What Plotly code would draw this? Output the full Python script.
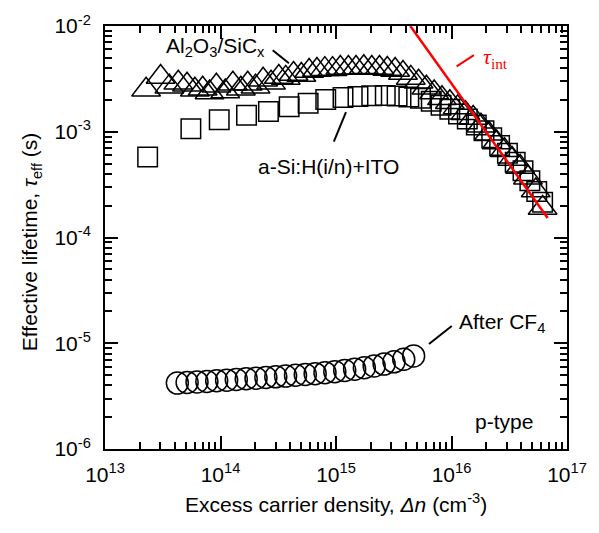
import plotly.graph_objects as go

# ---- data ----
# Al2O3/SiCx (triangles)
tri_x = [2.27e13, 3.03e13, 3.61e13, 4.31e13, 5.13e13, 6.00e13, 7.01e13, 8.04e13, 9.21e13,
         1.10e14, 1.28e14, 1.50e14, 1.72e14, 2.01e14, 2.34e14, 2.74e14, 3.20e14, 3.67e14,
         4.29e14, 5.01e14, 5.85e14, 6.84e14, 8.00e14, 9.34e14, 1.09e15, 1.28e15, 1.49e15,
         1.74e15, 2.04e15, 2.38e15, 2.78e15, 3.25e15, 3.80e15, 4.44e15, 5.19e15, 6.06e15,
         7.08e15, 8.27e15, 9.67e15, 1.13e16, 1.32e16, 1.54e16, 1.80e16, 2.11e16, 2.46e16,
         2.88e16, 3.36e16, 3.93e16, 4.59e16, 5.36e16, 6.15e16]
tri_y = [2.50e-3, 3.30e-3, 2.67e-3, 2.90e-3, 2.78e-3, 2.50e-3, 2.55e-3, 2.35e-3, 2.72e-3,
         2.40e-3, 2.84e-3, 2.55e-3, 2.84e-3, 2.67e-3, 3.10e-3, 2.90e-3, 3.30e-3, 3.23e-3,
         3.52e-3, 3.44e-3, 3.75e-3, 3.83e-3, 3.91e-3, 3.91e-3, 4.00e-3, 4.00e-3, 4.00e-3,
         4.08e-3, 4.00e-3, 4.00e-3, 3.92e-3, 3.83e-3, 3.59e-3, 3.23e-3, 2.97e-3, 2.61e-3,
         2.35e-3, 2.07e-3, 1.90e-3, 1.70e-3, 1.50e-3, 1.35e-3, 1.14e-3, 9.58e-4, 7.91e-4,
         6.67e-4, 5.51e-4, 4.64e-4, 3.67e-4, 2.78e-4, 1.90e-4]

# a-Si:H(i/n)+ITO (squares)
sq_x = [2.34e13, 5.54e13, 9.75e13, 1.68e14, 2.60e14, 3.93e14, 5.74e14, 8.15e14, 1.15e15,
        1.55e15, 2.04e15, 2.67e15, 3.38e15, 4.27e15, 5.39e15, 6.68e15, 8.12e15, 9.67e15,
        1.15e16, 1.37e16, 1.64e16, 1.91e16, 2.23e16, 2.61e16, 3.05e16, 3.56e16, 4.16e16,
        4.77e16, 5.47e16, 6.15e16]
sq_y = [5.78e-4, 1.07e-3, 1.30e-3, 1.43e-3, 1.55e-3, 1.72e-3, 1.86e-3, 2.02e-3, 2.11e-3,
        2.16e-3, 2.19e-3, 2.20e-3, 2.18e-3, 2.13e-3, 2.07e-3, 1.94e-3, 1.78e-3, 1.63e-3,
        1.47e-3, 1.32e-3, 1.16e-3, 1.02e-3, 8.79e-4, 7.41e-4, 6.25e-4, 5.16e-4, 4.27e-4,
        3.44e-4, 2.72e-4, 2.15e-4]

# After CF4 (circles)
ci_x = [4.23e13, 5.14e13, 6.26e13, 7.62e13, 9.27e13, 1.13e14, 1.37e14, 1.67e14, 2.03e14,
        2.47e14, 3.01e14, 3.66e14, 4.46e14, 5.42e14, 6.60e14, 8.03e14, 9.77e14, 1.19e15,
        1.45e15, 1.76e15, 2.14e15, 2.61e15, 3.18e15, 3.86e15, 4.70e15]
ci_y = [4.20e-6, 4.26e-6, 4.31e-6, 4.35e-6, 4.42e-6, 4.48e-6, 4.54e-6, 4.61e-6, 4.67e-6,
        4.74e-6, 4.81e-6, 4.89e-6, 4.98e-6, 5.06e-6, 5.16e-6, 5.27e-6, 5.38e-6, 5.53e-6,
        5.69e-6, 5.87e-6, 6.09e-6, 6.35e-6, 6.67e-6, 7.06e-6, 7.59e-6]

# intrinsic lifetime limit (red line)
int_x = [4.4e15, 6.8e16]
int_y = [1.0e-2, 1.53e-4]

x_tickvals = [1e13, 1e14, 1e15, 1e16, 1e17]
x_ticktext = ["10<sup>13</sup>", "10<sup>14</sup>", "10<sup>15</sup>", "10<sup>16</sup>", "10<sup>17</sup>"]
y_tickvals = [1e-6, 1e-5, 1e-4, 1e-3, 1e-2]
y_ticktext = ["10<sup>-6</sup>", "10<sup>-5</sup>", "10<sup>-4</sup>", "10<sup>-3</sup>", "10<sup>-2</sup>"]

x_minor = [d * 10.0 ** e for e in range(13, 17) for d in range(2, 10)]
y_minor = [d * 10.0 ** e for e in range(-6, -2) for d in range(2, 10)]

FONT = "Liberation Sans, Arial, sans-serif"

fig = go.Figure()
fig.add_trace(go.Scatter(x=tri_x, y=tri_y, mode="markers",
                         marker=dict(symbol="triangle-up", size=25, color="rgba(0,0,0,0)",
                                     line=dict(color="black", width=1.5))))
fig.add_trace(go.Scatter(x=sq_x, y=sq_y, mode="markers",
                         marker=dict(symbol="square", size=19.5, color="rgba(0,0,0,0)",
                                     line=dict(color="black", width=1.5))))
fig.add_trace(go.Scatter(x=ci_x, y=ci_y, mode="markers",
                         marker=dict(symbol="circle", size=22, color="rgba(0,0,0,0)",
                                     line=dict(color="black", width=1.5))))
fig.add_trace(go.Scatter(x=int_x, y=int_y, mode="lines",
                         line=dict(color="#ff0000", width=2.5)))

axis_common = dict(type="log", showline=True, linewidth=2, linecolor="black", mirror="ticks",
                   ticks="inside", ticklen=13, tickwidth=1.5, tickcolor="black",
                   showgrid=False, zeroline=False,
                   tickfont=dict(family=FONT, size=21, color="black"))

fig.update_xaxes(range=[13, 17], tickmode="array", tickvals=x_tickvals, ticktext=x_ticktext,
                 ticklabelstandoff=6,
                 minor=dict(ticks="inside", ticklen=7, tickwidth=1.5, tickcolor="black",
                            tickvals=x_minor, showgrid=False),
                 **axis_common)
fig.update_yaxes(range=[-6, -2], tickmode="array", tickvals=y_tickvals, ticktext=y_ticktext,
                 ticklabelstandoff=8,
                 minor=dict(ticks="inside", ticklen=7, tickwidth=1.5, tickcolor="black",
                            tickvals=y_minor, showgrid=False),
                 **axis_common)

def px2paper(px, py):
    return (px - 105) / 473.0, (449 - py) / 432.0

annots = []
def add_text(text, px, py, size=21, color="black", family=FONT, xanchor="left", angle=0):
    x, y = px2paper(px, py)
    annots.append(dict(text=text, x=x, y=y, xref="paper", yref="paper", showarrow=False,
                       xanchor=xanchor, yanchor="middle", textangle=angle,
                       font=dict(family=family, size=size, color=color)))

add_text("Al<sub>2</sub>O<sub>3</sub>/SiC<sub>x</sub>", 165, 38)
add_text("a-Si:H(i/n)+ITO", 260, 160)
add_text("After CF<sub>4</sub>", 465, 320)
add_text("p-type", 482, 421)
add_text("<i>τ</i><sub>int</sub>", 490, 50, size=22, color="#ff0000",
         family="Liberation Serif, Times New Roman, serif")
add_text("Excess carrier density, <i>Δn</i> (cm<sup>-3</sup>)", 341.5, 504, xanchor="center")
add_text("Effective lifetime, <i>τ</i><sub>eff</sub> (s)", 30, 238, xanchor="center", angle=-90)

shapes = []
def add_leader(p0, p1, color="black"):
    x0, y0 = px2paper(*p0)
    x1, y1 = px2paper(*p1)
    shapes.append(dict(type="line", xref="paper", yref="paper", x0=x0, y0=y0, x1=x1, y1=y1,
                       line=dict(color=color, width=2)))

add_leader((276.7, 41.7), (293.3, 55))
add_leader((351.7, 105), (339.3, 135))
add_leader((436.7, 341.7), (460, 323.3))
add_leader((465, 58.3), (482.7, 46.7), color="#ff0000")

fig.update_layout(width=599, height=533, margin=dict(l=105, r=21, t=17, b=84),
                  paper_bgcolor="white", plot_bgcolor="white", showlegend=False,
                  annotations=annots, shapes=shapes,
                  font=dict(family=FONT, size=21, color="black"))

fig.write_html("out.html", config={"displayModeBar": False},
               post_script="document.body.style.margin='0';document.body.style.overflow='hidden';")
